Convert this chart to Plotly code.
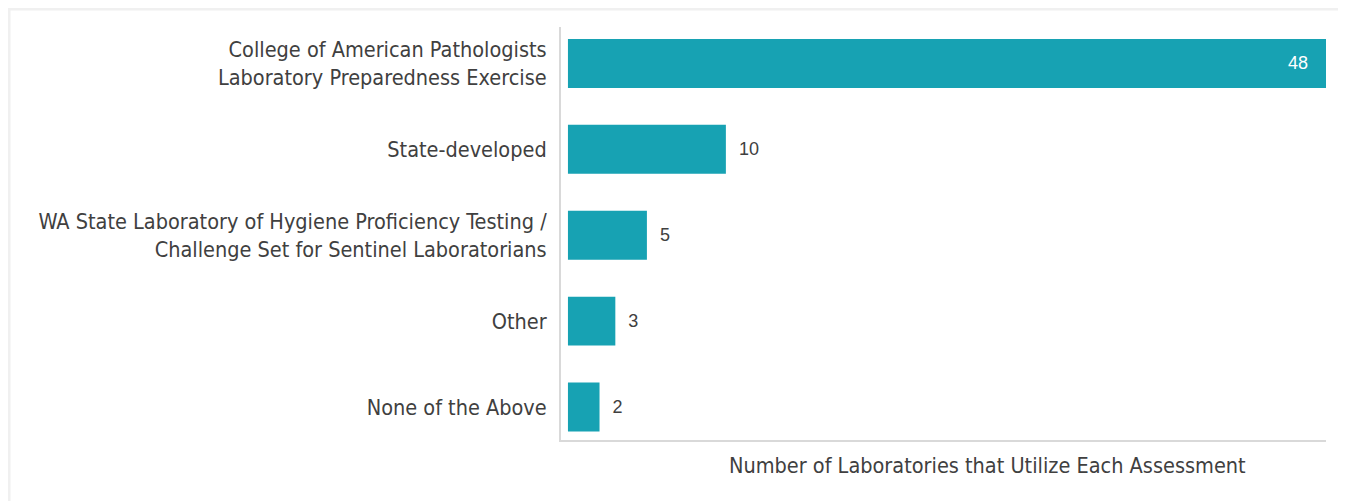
import plotly.graph_objects as go

categories = [
    "College of American Pathologists<br>Laboratory Preparedness Exercise",
    "State-developed",
    "WA State Laboratory of Hygiene Proficiency Testing /<br>Challenge Set for Sentinel Laboratorians",
    "Other",
    "None of the Above",
]
values = [48, 10, 5, 3, 2]
text_positions = ["inside", "outside", "outside", "outside", "outside"]
x_title = "Number of Laboratories that Utilize Each Assessment"

BAR = "#17a2b3"
TXT = "#404040"
NB = "\u00a0"
COND = "DejaVu Sans Condensed, Liberation Sans Narrow, Arial Narrow, sans-serif"
REG = "Liberation Sans, Arial, sans-serif"

# page offset of the figure (body margin)
OFF = 8
W, H = 1346 - OFF, 501 - OFF
L = 561 - OFF
T = 27 - OFF
R = W - (1326 - OFF)
B = H - (440 - OFF)
pw, ph = W - L - R, H - T - B

labels = []
for v, pos in zip(values, text_positions):
    if pos == "inside":
        labels.append(str(v) + NB * 3)
    else:
        labels.append(NB * 2 + str(v))

fig = go.Figure(go.Bar(
    y=categories, x=values, orientation="h",
    marker=dict(color=BAR, line=dict(width=0)),
    width=0.57,
    text=labels,
    textposition=text_positions,
    insidetextanchor="end",
    insidetextfont=dict(color="white", size=18, family=REG),
    outsidetextfont=dict(color=TXT, size=18, family=REG),
    cliponaxis=False,
))

def px_x(p):
    return (p - OFF - L) / pw

def px_y(p):
    return (H - B - (p - OFF)) / ph

fig.update_layout(
    width=W, height=H,
    margin=dict(l=L, r=R, t=T, b=B),
    paper_bgcolor="white", plot_bgcolor="white",
    showlegend=False,
    uniformtext=dict(minsize=18, mode="show"),
    xaxis=dict(range=[-0.44, 48], showgrid=False, zeroline=False, showticklabels=False,
               showline=True, linecolor="#d9d9d9", linewidth=2, fixedrange=True),
    yaxis=dict(range=[4.384, -0.424], showgrid=False, zeroline=False,
               showline=True, linecolor="#d9d9d9", linewidth=2, ticks="",
               ticklabelstandoff=8,
               tickfont=dict(family=COND, size=21.5, color=TXT)),
    annotations=[dict(
        text=x_title, xref="paper", yref="paper",
        x=px_x(987), y=px_y(465), xanchor="center", yanchor="middle",
        showarrow=False,
        font=dict(family=COND, size=21.5, color=TXT),
    )],
    shapes=[
        dict(type="line", xref="paper", yref="paper", x0=px_x(OFF), x1=px_x(1346), y0=px_y(OFF + 1), y1=px_y(OFF + 1),
             line=dict(color="#f0f0f0", width=3)),
        dict(type="line", xref="paper", yref="paper", x0=px_x(OFF + 1), x1=px_x(OFF + 1), y0=px_y(OFF), y1=px_y(501),
             line=dict(color="#f0f0f0", width=3)),
    ],
)

fig.write_html("out.html")
